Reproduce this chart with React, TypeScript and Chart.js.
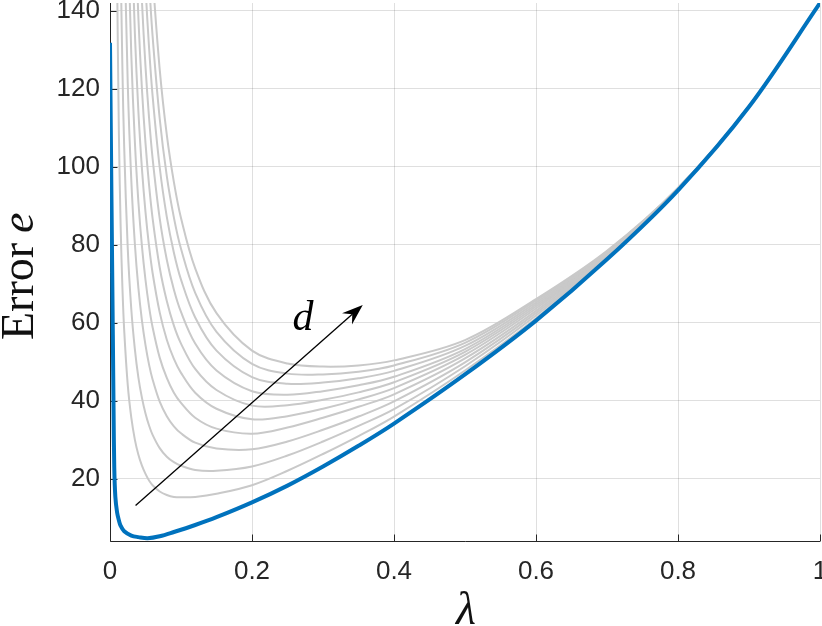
import React, { useEffect, useRef } from 'react';
import { Chart, registerables } from 'chart.js';

Chart.register(...registerables);

// ---------- data ----------
const X_TICKS = [0, 0.2, 0.4, 0.6, 0.8, 1];
const Y_TICKS = [20, 40, 60, 80, 100, 120, 140];
const X_MIN = 0;
const X_MAX = 1;
const Y_MIN = 4.1;
const Y_MAX = 142;

// thick blue curve (lambda, error)
const BLUE_LAMBDA = [0, 0.002, 0.004, 0.005, 0.006, 0.0075, 0.01, 0.0125, 0.015, 0.02, 0.03, 0.04, 0.053, 0.07, 0.09, 0.12, 0.15, 0.2, 0.25, 0.3, 0.35, 0.4, 0.5, 0.6, 0.7, 0.8, 0.9, 1.0];
const BLUE_ERROR = [131.8, 93, 57, 38, 23, 15.5, 11.4, 9.4, 8.0, 6.6, 5.5, 5.1, 4.8, 5.3, 6.4, 8.2, 10.2, 14.0, 18.3, 23.2, 28.5, 34.2, 46.8, 60.6, 76.3, 94.0, 115.4, 142];

// grey family (increasing d), sampled on a shared lambda grid; null = off the top of the axes
const GRAY_LAMBDA = [0.01, 0.0125, 0.015, 0.0175, 0.02, 0.025, 0.03, 0.035, 0.04, 0.045, 0.05, 0.055, 0.06, 0.07, 0.08, 0.09, 0.1, 0.12, 0.15, 0.2, 0.25, 0.3, 0.35, 0.4, 0.5, 0.6, 0.7, 0.8, 0.9, 1.0];
const GRAY_D1 = [148.3, 108.8, 84.7, 69.0, 58.1, 44.1, 35.7, 30.1, 26.2, 23.4, 21.3, 19.6, 18.4, 16.8, 15.9, 15.4, 15.3, 15.4, 16.2, 18.4, 22.1, 26.4, 31.0, 36.0, 47.8, 61.2, 76.6, 94.1, 115.5, 142];
const GRAY_D2 = [null, 198.2, 154.0, 125.1, 105.0, 79.1, 63.5, 53.3, 46.0, 40.8, 36.8, 33.7, 31.3, 27.9, 25.7, 24.3, 23.4, 22.3, 22.1, 23.2, 26.0, 29.6, 33.6, 37.9, 48.9, 61.9, 76.8, 94.2, 115.5, 142];
const GRAY_D3 = [null, null, null, 194.2, 162.3, 121.3, 96.6, 80.3, 68.9, 60.6, 54.3, 49.3, 45.5, 39.8, 36.1, 33.5, 31.7, 29.3, 27.8, 27.6, 29.6, 32.6, 36.0, 39.9, 49.9, 62.5, 77.1, 94.2, 115.5, 142];
const GRAY_D4 = [null, null, null, null, null, 162.5, 128.7, 106.5, 91.0, 79.6, 71.0, 64.2, 58.9, 51.1, 45.9, 42.1, 39.5, 35.7, 32.9, 31.6, 33.2, 35.7, 38.5, 41.7, 50.9, 63.1, 77.3, 94.3, 115.5, 142];
const GRAY_D5 = [null, null, null, null, null, null, 163.0, 134.4, 114.2, 99.5, 88.4, 79.7, 72.8, 62.7, 55.7, 50.8, 47.2, 42.1, 38.0, 35.3, 36.1, 38.0, 40.4, 43.3, 51.8, 63.7, 77.5, 94.3, 115.5, 142];
const GRAY_D6 = [null, null, null, null, null, null, null, 163.0, 138.1, 119.9, 106.1, 95.4, 86.8, 74.2, 65.6, 59.3, 54.7, 48.2, 42.8, 38.8, 38.9, 40.3, 42.2, 44.8, 52.6, 64.2, 77.7, 94.4, 115.5, 142];
const GRAY_D7 = [null, null, null, null, null, null, null, null, 164.5, 142.4, 125.7, 112.6, 102.2, 86.8, 76.2, 68.5, 62.8, 54.7, 47.8, 42.5, 41.6, 42.5, 44.0, 46.2, 53.3, 64.7, 77.9, 94.5, 115.5, 142];
const GRAY_D8 = [null, null, null, null, null, null, null, null, null, 166.1, 146.2, 130.6, 118.2, 99.9, 87.2, 78.0, 71.1, 61.4, 52.9, 46.1, 44.4, 44.7, 45.8, 47.7, 54.1, 65.2, 78.1, 94.5, 115.5, 142];
const GRAY_D9 = [null, null, null, null, null, null, null, null, null, null, 165.8, 147.8, 133.5, 112.4, 97.6, 87.0, 79.0, 67.7, 57.7, 49.5, 47.0, 46.8, 47.5, 49.1, 54.9, 65.7, 78.3, 94.6, 115.6, 142];
const GRAY_D10 = [null, null, null, null, null, null, null, null, null, null, null, 165.3, 149.1, 125.0, 108.2, 96.1, 86.9, 74.0, 62.5, 52.9, 49.6, 48.8, 49.1, 50.4, 55.6, 66.1, 78.5, 94.6, 115.6, 142];
const GRAY_CURVES = [GRAY_D1, GRAY_D2, GRAY_D3, GRAY_D4, GRAY_D5, GRAY_D6, GRAY_D7, GRAY_D8, GRAY_D9, GRAY_D10];

// annotation anchors in data units (lambda, error)
const ARROW_START = [0.036, 13.2];
const ARROW_END = [0.356, 64.6];
const D_LABEL_AT = [0.272, 58.1];

const X_TITLE = 'λ';
const Y_TITLE_ROMAN = 'Error';
const Y_TITLE_ITALIC = 'e';
const ARROW_LABEL = 'd';

// ---------- styles ----------
const BLUE = '#0072BD';
const GRAY = '#c9c9c9';
const AXIS_COLOR = '#262626';
const GRID_COLOR = 'rgba(38,38,38,0.15)';
const SANS = '"Liberation Sans", Arial, Helvetica, sans-serif';
const SERIF = '"Liberation Serif", "Times New Roman", serif';

const overlayPlugin = {
  id: 'overlay',
  beforeDatasetsDraw(chart: any) {
    const { ctx, chartArea: a, scales } = chart;
    const xs = scales.x;
    const ys = scales.y;
    ctx.save();
    ctx.strokeStyle = AXIS_COLOR;
    ctx.lineWidth = 1;
    ctx.beginPath();
    const lx = Math.round(a.left) + 0.5;
    const by = Math.round(a.bottom) + 0.5;
    ctx.moveTo(lx, a.top);
    ctx.lineTo(lx, by);
    ctx.lineTo(a.right, by);
    for (const v of Y_TICKS) {
      const py = Math.round(ys.getPixelForValue(v)) + 0.5;
      ctx.moveTo(lx, py);
      ctx.lineTo(lx + 7, py);
    }
    for (const v of X_TICKS) {
      const px = Math.round(xs.getPixelForValue(v)) + 0.5;
      ctx.moveTo(px, by);
      ctx.lineTo(px, by - 7);
    }
    ctx.stroke();
    ctx.restore();
  },
  afterDatasetsDraw(chart: any) {
    const { ctx, scales } = chart;
    const xs = scales.x;
    const ys = scales.y;
    const x0 = xs.getPixelForValue(ARROW_START[0]);
    const y0 = ys.getPixelForValue(ARROW_START[1]);
    const x1 = xs.getPixelForValue(ARROW_END[0]);
    const y1 = ys.getPixelForValue(ARROW_END[1]);
    const ang = Math.atan2(y1 - y0, x1 - x0);
    const dx = Math.cos(ang);
    const dy = Math.sin(ang);
    const px = -dy;
    const py = dx;
    const L = 21;
    const W = 7.5;
    const back = 14;
    ctx.save();
    ctx.strokeStyle = '#000';
    ctx.fillStyle = '#000';
    ctx.lineWidth = 1.3;
    ctx.beginPath();
    ctx.moveTo(x0, y0);
    ctx.lineTo(x1 - back * dx, y1 - back * dy);
    ctx.stroke();
    ctx.beginPath();
    ctx.moveTo(x1, y1);
    ctx.lineTo(x1 - L * dx + W * px, y1 - L * dy + W * py);
    ctx.lineTo(x1 - back * dx, y1 - back * dy);
    ctx.lineTo(x1 - L * dx - W * px, y1 - L * dy - W * py);
    ctx.closePath();
    ctx.fill();
    ctx.font = `italic 42px ${SERIF}`;
    ctx.textAlign = 'center';
    ctx.textBaseline = 'alphabetic';
    ctx.fillText(ARROW_LABEL, xs.getPixelForValue(D_LABEL_AT[0]), ys.getPixelForValue(D_LABEL_AT[1]));
    ctx.restore();
  },
  afterDraw(chart: any) {
    const { ctx, chartArea: a } = chart;
    ctx.save();
    ctx.fillStyle = '#111';
    ctx.font = `italic 46px ${SERIF}`;
    ctx.textAlign = 'center';
    ctx.textBaseline = 'alphabetic';
    ctx.fillText(X_TITLE, (a.left + a.right) / 2 + 1, 624);
    // y title, rotated; starts (at the bottom) just above the axis centre
    ctx.translate(33, 340);
    ctx.rotate(-Math.PI / 2);
    ctx.textAlign = 'left';
    ctx.font = `46px ${SERIF}`;
    const w1 = ctx.measureText(Y_TITLE_ROMAN).width;
    ctx.fillText(Y_TITLE_ROMAN, 0, 0);
    ctx.font = `italic 46px ${SERIF}`;
    ctx.fillText(Y_TITLE_ITALIC, w1 + 10, 0);
    ctx.restore();
  },
};

function buildDatasets() {
  const common = {
    pointRadius: 0,
    cubicInterpolationMode: 'default',
    tension: 0.35,
    capBezierPoints: false,
  };
  const blue = {
    ...common,
    label: 'e',
    data: BLUE_LAMBDA.map((l, i) => ({ x: l, y: BLUE_ERROR[i] })),
    borderColor: BLUE,
    borderWidth: 4,
    order: 0,
  };
  const grays = GRAY_CURVES.map((vals, k) => ({
    ...common,
    label: 'd' + (k + 1),
    data: GRAY_LAMBDA.map((l, i) => ({ x: l, y: vals[i] })).filter((p) => p.y !== null),
    borderColor: GRAY,
    borderWidth: 2,
    order: 1,
  }));
  return [blue, ...grays];
}

export default function App() {
  const ref = useRef<HTMLCanvasElement>(null);
  useEffect(() => {
    if (!ref.current) return;
    const chart = new Chart(ref.current, {
      type: 'line',
      data: { datasets: buildDatasets() as any },
      options: {
        responsive: false,
        animation: false,
        devicePixelRatio: 1,
        layout: { padding: { top: 3, right: 2, left: 0, bottom: 0 } },
        plugins: { legend: { display: false }, tooltip: { enabled: false } },
        scales: {
          x: {
            type: 'linear',
            min: X_MIN,
            max: X_MAX,
            border: { display: false },
            grid: { color: GRID_COLOR, drawTicks: false, lineWidth: 1 },
            ticks: {
              autoSkip: false,
              maxRotation: 0,
              padding: 15,
              color: AXIS_COLOR,
              font: { family: SANS, size: 26 },
              callback: (v: any) => String(v),
            },
            afterBuildTicks: (s: any) => {
              s.ticks = X_TICKS.map((v) => ({ value: v }));
            },
            afterFit: (s: any) => {
              s.height = 85;
              s.paddingLeft = 0;
              s.paddingRight = 0;
            },
          },
          y: {
            type: 'linear',
            min: Y_MIN,
            max: Y_MAX,
            border: { display: false },
            grid: { color: GRID_COLOR, drawTicks: false, lineWidth: 1 },
            ticks: {
              autoSkip: false,
              padding: 10,
              color: AXIS_COLOR,
              font: { family: SANS, size: 26 },
              callback: (v: any) => String(v),
            },
            afterBuildTicks: (s: any) => {
              s.ticks = Y_TICKS.map((v) => ({ value: v }));
            },
            afterFit: (s: any) => {
              s.width = 110;
              s.paddingTop = 0;
              s.paddingBottom = 0;
            },
          },
        },
      } as any,
      plugins: [overlayPlugin],
    });
    return () => chart.destroy();
  }, []);
  return (
    <div style={{ position: 'fixed', left: 0, top: 0, width: 822, height: 626, background: '#fff' }}>
      <canvas ref={ref} width={822} height={626} style={{ display: 'block', width: 822, height: 626 }} />
    </div>
  );
}
